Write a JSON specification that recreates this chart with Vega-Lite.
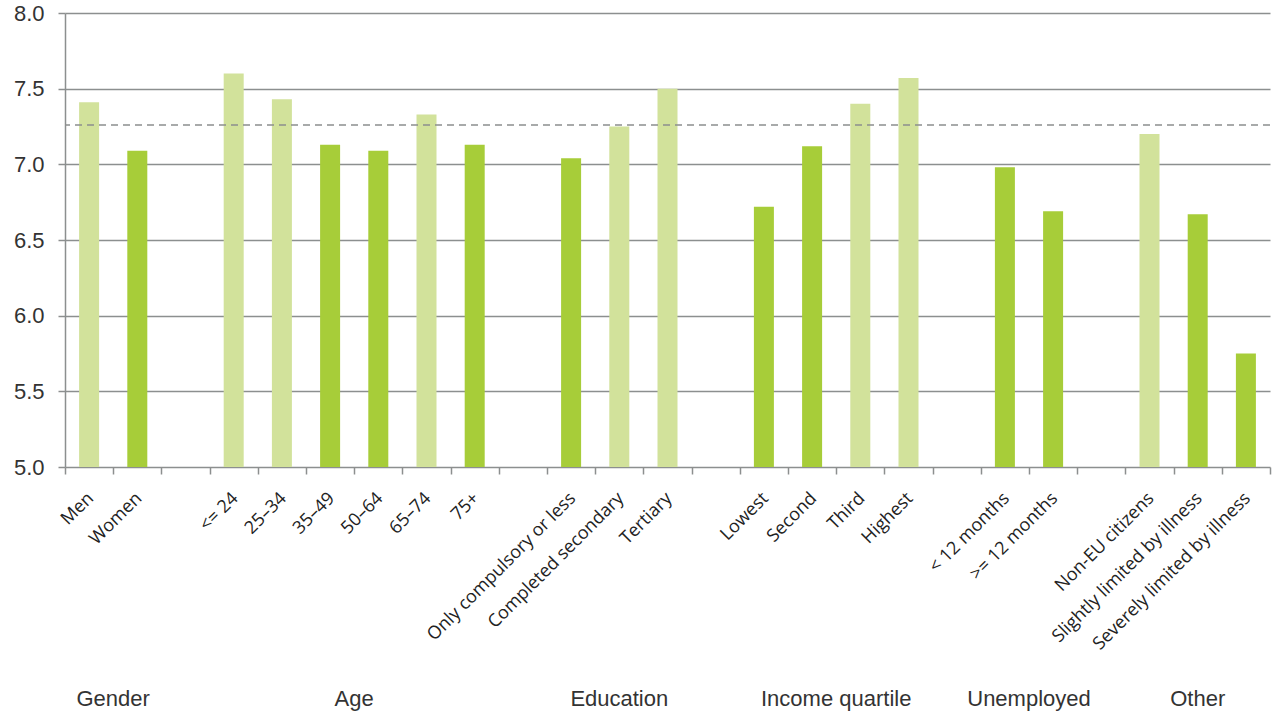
{
  "$schema": "https://vega.github.io/schema/vega-lite/v6.json",
  "width": 1205,
  "height": 454,
  "autosize": {"type": "none"},
  "padding": {"left": 65, "top": 13, "right": 5, "bottom": 248},
  "background": "white",
  "config": {"view": {"stroke": null}},
  "datasets": {
    "bars": [
      {"category": "Men", "value": 7.41, "level": "higher"},
      {"category": "Women", "value": 7.09, "level": "lower"},
      {"category": "<= 24", "value": 7.60, "level": "higher"},
      {"category": "25–34", "value": 7.43, "level": "higher"},
      {"category": "35–49", "value": 7.13, "level": "lower"},
      {"category": "50–64", "value": 7.09, "level": "lower"},
      {"category": "65–74", "value": 7.33, "level": "higher"},
      {"category": "75+", "value": 7.13, "level": "lower"},
      {"category": "Only compulsory  or less", "value": 7.04, "level": "lower"},
      {"category": "Completed secondary", "value": 7.25, "level": "higher"},
      {"category": "Tertiary", "value": 7.50, "level": "higher"},
      {"category": "Lowest", "value": 6.72, "level": "lower"},
      {"category": "Second", "value": 7.12, "level": "lower"},
      {"category": "Third", "value": 7.40, "level": "higher"},
      {"category": "Highest", "value": 7.57, "level": "higher"},
      {"category": "< 12 months", "value": 6.98, "level": "lower"},
      {"category": ">= 12 months", "value": 6.69, "level": "lower"},
      {"category": "Non-EU citizens", "value": 7.20, "level": "higher"},
      {"category": "Slightly limited by illness", "value": 6.67, "level": "lower"},
      {"category": "Severely limited by illness", "value": 5.75, "level": "lower"}
    ],
    "avg": [{"value": 7.26}],
    "groups": [
      {"group": "Gender", "category": "Men", "pos": "edge"},
      {"group": "Age", "category": "35–49", "pos": "edge"},
      {"group": "Education", "category": "Completed secondary", "pos": "mid"},
      {"group": "Income quartile", "category": "Second", "pos": "edge"},
      {"group": "Unemployed", "category": "< 12 months", "pos": "edge"},
      {"group": "Other", "category": "Slightly limited by illness", "pos": "mid"}
    ]
  },
  "layer": [
    {
      "data": {"name": "bars"},
      "mark": {"type": "bar", "width": {"band": 0.415}},
      "encoding": {
        "x": {
          "field": "category",
          "type": "nominal",
          "sort": null,
          "scale": {
            "domain": ["Men", "Women", " ", "<= 24", "25–34", "35–49", "50–64", "65–74", "75+", "  ", "Only compulsory  or less", "Completed secondary", "Tertiary", "   ", "Lowest", "Second", "Third", "Highest", "    ", "< 12 months", ">= 12 months", "     ", "Non-EU citizens", "Slightly limited by illness", "Severely limited by illness"],
            "paddingInner": 0,
            "paddingOuter": 0
          },
          "axis": {
            "title": null,
            "domain": false,
            "grid": false,
            "ticks": true,
            "tickBand": "extent",
            "tickSize": 7,
            "tickColor": "#8c8f8f",
            "tickWidth": 1.5,
            "labelAngle": -45,
            "labelFont": "Open Sans",
            "labelFontSize": 18,
            "labelColor": "#222222",
            "labelPadding": 15,
            "labelOffset": -5,
            "labelLimit": 0,
            "labelOverlap": false
          }
        },
        "y": {
          "field": "value",
          "type": "quantitative",
          "scale": {"domain": [5, 8], "zero": false, "nice": false},
          "axis": {
            "title": null,
            "values": [5, 5.5, 6, 6.5, 7, 7.5, 8],
            "format": ".1f",
            "grid": true,
            "gridColor": "#8c8f8f",
            "gridWidth": 1.5,
            "domain": true,
            "domainColor": "#8c8f8f",
            "domainWidth": 1.5,
            "tickSize": 7,
            "tickColor": "#8c8f8f",
            "tickWidth": 1.5,
            "labelFont": "Liberation Sans",
            "labelFontSize": 22,
            "labelColor": "#333333",
            "labelPadding": 14
          }
        },
        "y2": {"datum": 5},
        "color": {
          "field": "level",
          "type": "nominal",
          "scale": {"domain": ["higher", "lower"], "range": ["#d2e29b", "#a7cd39"]},
          "legend": null
        }
      }
    },
    {
      "data": {"name": "avg"},
      "mark": {"type": "rule", "color": "#8c8f8f", "strokeWidth": 1.5, "strokeDash": [7, 5]},
      "encoding": {
        "y": {"field": "value", "type": "quantitative"}
      }
    },
    {
      "data": {"name": "groups"},
      "transform": [{"filter": "datum.pos == 'edge'"}],
      "mark": {"type": "text", "font": "Liberation Sans", "fontSize": 22, "color": "#333333", "align": "center", "baseline": "middle"},
      "encoding": {
        "x": {"field": "category", "type": "nominal", "bandPosition": 1},
        "y": {"datum": 3.47},
        "text": {"field": "group"}
      }
    },
    {
      "data": {"name": "groups"},
      "transform": [{"filter": "datum.pos == 'mid'"}],
      "mark": {"type": "text", "font": "Liberation Sans", "fontSize": 22, "color": "#333333", "align": "center", "baseline": "middle"},
      "encoding": {
        "x": {"field": "category", "type": "nominal", "bandPosition": 0.5},
        "y": {"datum": 3.47},
        "text": {"field": "group"}
      }
    }
  ]
}
